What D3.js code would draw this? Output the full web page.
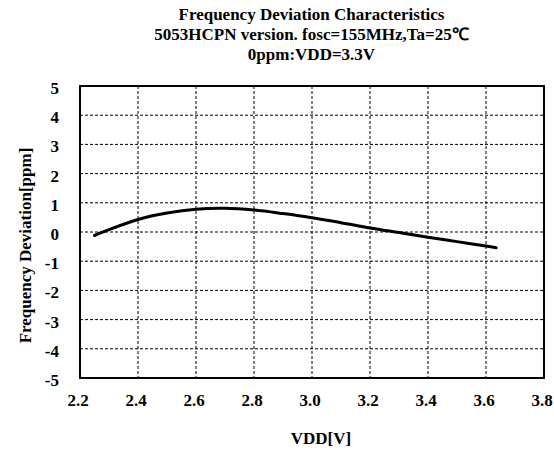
<!DOCTYPE html>
<html><head><meta charset="utf-8">
<script src="https://cdn.jsdelivr.net/npm/d3@7"></script>
<style>body{margin:0;background:#fff}</style>
</head><body><svg id="c" width="554" height="450"></svg>
<script>
const titleLines = ["Frequency Deviation Characteristics", "5053HCPN version. fosc=155MHz,Ta=25\u2103", "0ppm:VDD=3.3V"];
const xLabel = "VDD[V]";
const yLabel = "Frequency Deviation[ppm]";
const xTicks = [2.2, 2.4, 2.6, 2.8, 3.0, 3.2, 3.4, 3.6, 3.8];
const yTicks = [5, 4, 3, 2, 1, 0, -1, -2, -3, -4, -5];
const vdd = [2.25, 2.3, 2.4, 2.5, 2.6, 2.7, 2.8, 2.9, 3.0, 3.1, 3.2, 3.3, 3.4, 3.5, 3.6, 3.635];
const dev = [-0.12, 0.08, 0.43, 0.65, 0.78, 0.81, 0.75, 0.63, 0.49, 0.32, 0.14, -0.02, -0.18, -0.33, -0.48, -0.54];

const svg = d3.select("#c");
const L = 80, R = 544, T = 86, B = 378;
const x = d3.scaleLinear().domain([2.2, 3.8]).range([L, R]);
const y = d3.scaleLinear().domain([-5, 5]).range([B, T]);
const font = "'Liberation Serif','Times New Roman',serif";
const fs = 17;

// grid
svg.append("g").selectAll("line").data(xTicks.slice(1, -1)).join("line")
  .attr("x1", d => x(d)).attr("x2", d => x(d)).attr("y1", T).attr("y2", B)
  .attr("stroke", "#000").attr("stroke-width", 1).attr("stroke-dasharray", "3,2");
svg.append("g").selectAll("line").data(yTicks.slice(1, -1)).join("line")
  .attr("y1", d => y(d)).attr("y2", d => y(d)).attr("x1", L).attr("x2", R)
  .attr("stroke", "#000").attr("stroke-width", 1).attr("stroke-dasharray", "3,2");

// frame
svg.append("rect").attr("x", L).attr("y", T).attr("width", R - L).attr("height", B - T)
  .attr("fill", "none").attr("stroke", "#000").attr("stroke-width", 2);

// axes labels via d3 axis
const xa = svg.append("g").attr("transform", `translate(-2.5,${B})`)
  .call(d3.axisBottom(x).tickValues(xTicks).tickFormat(d3.format(".1f")).tickSize(0).tickPadding(16));
const ya = svg.append("g").attr("transform", `translate(${L},2)`)
  .call(d3.axisLeft(y).tickValues(yTicks).tickFormat(d => d).tickSize(0).tickPadding(21));
[xa, ya].forEach(a => {
  a.select(".domain").remove();
  a.selectAll("text").attr("font-family", font).attr("font-weight", "bold").attr("font-size", fs).attr("fill", "#000");
});

// curve
svg.append("path").datum(vdd.map((v, i) => [v, dev[i]]))
  .attr("d", d3.line().x(d => x(d[0])).y(d => y(d[1])).curve(d3.curveCatmullRom))
  .attr("fill", "none").attr("stroke", "#000").attr("stroke-width", 3).attr("stroke-linecap", "round");

// title
svg.append("g").selectAll("text").data(titleLines).join("text")
  .attr("x", 311.5).attr("y", (d, i) => 20 + i * 20).attr("text-anchor", "middle")
  .attr("font-family", font).attr("font-weight", "bold").attr("font-size", fs).text(d => d);

svg.append("text").attr("x", 321).attr("y", 444).attr("text-anchor", "middle")
  .attr("font-family", font).attr("font-weight", "bold").attr("font-size", fs).text(xLabel);
svg.append("text").attr("transform", `translate(31,245.5) rotate(-90)`).attr("text-anchor", "middle")
  .attr("font-family", font).attr("font-weight", "bold").attr("font-size", fs).text(yLabel);
</script></body></html>
